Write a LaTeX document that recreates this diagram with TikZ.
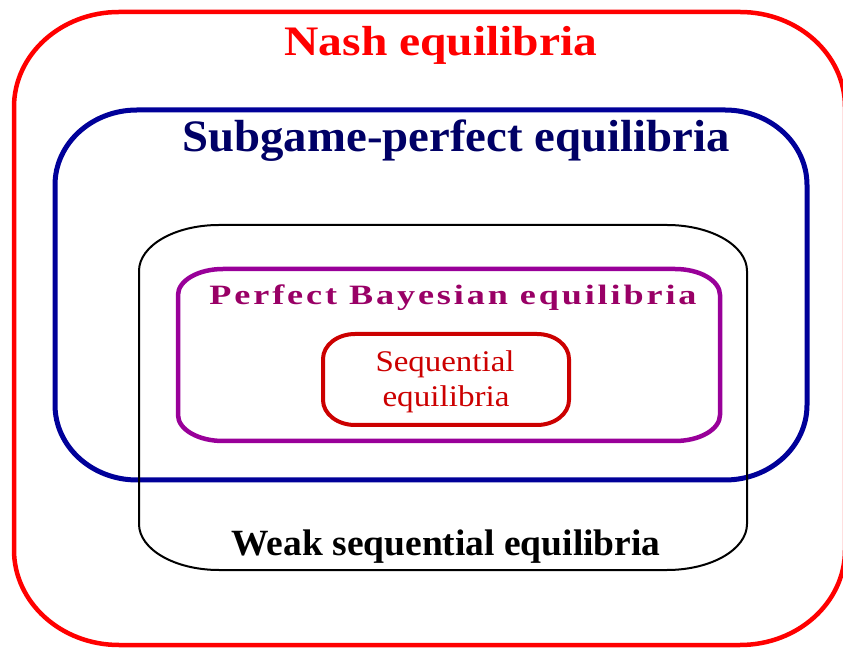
\documentclass[tikz,border=0pt]{standalone}
\usepackage{fontspec}
\setmainfont{Liberation Serif}
\newfontfamily\pbfont[LetterSpace=8]{Liberation Serif}
\usepackage{graphicx}
\definecolor{nashred}{RGB}{255,0,0}
\definecolor{spnavy}{RGB}{0,0,153}
\definecolor{sptext}{RGB}{0,0,102}
\definecolor{pbpurple}{RGB}{153,0,153}
\definecolor{pbtext}{RGB}{153,0,102}
\definecolor{seqred}{RGB}{204,0,0}
% elliptic rounded rectangle: x1, ytop, x2, ybottom, rx, ry (pixel coords, y down)
\newcommand\erect[7]{%
  \draw[#7] ({#1+#5},{648-#2}) -- ({#3-#5},{648-#2})
    arc[start angle=90,end angle=0,x radius=#5pt,y radius=#6pt]
    -- ({#3},{648-#4+#6})
    arc[start angle=0,end angle=-90,x radius=#5pt,y radius=#6pt]
    -- ({#1+#5},{648-#4})
    arc[start angle=270,end angle=180,x radius=#5pt,y radius=#6pt]
    -- ({#1},{648-#2-#6})
    arc[start angle=180,end angle=90,x radius=#5pt,y radius=#6pt]
    -- cycle;}
\tikzset{
  lbl/.style={anchor=base, inner sep=0pt, outer sep=0pt},
}
\begin{document}
\begin{tikzpicture}[x=1pt,y=1pt]
\useasboundingbox (0,0) rectangle (843,648);
\fill[white] (0,0) rectangle (843,648);
% boxes
\erect{14}{12}{845}{645}{105}{95}{nashred, line width=4.5pt}
\erect{55}{110}{807}{480}{82}{75}{spnavy, line width=5pt}
\erect{139}{225}{747}{570}{80}{46}{black, line width=2pt}
\erect{178}{269}{720}{441}{45}{26}{pbpurple, line width=4.5pt}
\erect{323}{334}{569}{425}{32}{25}{seqred, line width=4pt}
% labels
\node[lbl, text=nashred] (nash) at (441,{648-56})
  {\resizebox{313pt}{\height}{\fontsize{42}{48}\selectfont\bfseries Nash equilibria}};
\node[lbl, text=sptext] (spe) at (456,{648-152})
  {\resizebox{547pt}{\height}{\fontsize{45}{50}\selectfont\bfseries Subgame-perfect equilibria}};
\node[lbl, text=pbtext] (pbe) at (453,{648-305})
  {\resizebox{487pt}{\height}{\fontsize{28}{32}\selectfont\pbfont\bfseries Perfect Bayesian equilibria}};
\node[lbl, text=seqred] (seq1) at (445,{648-372})
  {\resizebox{139pt}{\height}{\fontsize{30}{36}\selectfont Sequential}};
\node[lbl, text=seqred] (seq2) at (446,{648-407})
  {\resizebox{127pt}{\height}{\fontsize{30}{36}\selectfont equilibria}};
\node[lbl, text=black] (wse) at (446,{648-555})
  {\resizebox{429pt}{\height}{\fontsize{37}{44}\selectfont\bfseries Weak sequential equilibria}};
\end{tikzpicture}
\end{document}
